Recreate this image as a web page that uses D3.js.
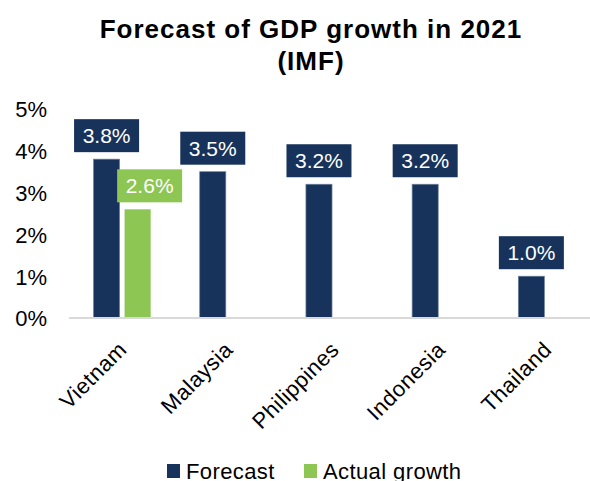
<!DOCTYPE html>
<html>
<head>
<meta charset="utf-8">
<script src="https://cdn.jsdelivr.net/npm/d3@7"></script>
<style>
  body { margin: 0; background: #fff; }
  svg { font-family: "Liberation Sans", Arial, sans-serif; }
</style>
</head>
<body>
<div id="viz"></div>
<script>
// chart data
var countries = ['Vietnam', 'Malaysia', 'Philippines', 'Indonesia', 'Thailand'];
var forecast = [3.8, 3.5, 3.2, 3.2, 1.0];
var actual = [2.6, null, null, null, null];
var seriesNames = ['Forecast', 'Actual growth'];
var seriesColors = ['#17335b', '#8dc653'];
var yTicks = [0, 1, 2, 3, 4, 5];

var width = 590, height = 481;
var plotLeft = 69, plotRight = 600, plotTop = 109, plotBottom = 318;

var svg = d3.select('#viz').append('svg')
  .attr('width', width)
  .attr('height', height);

// title
svg.append('text')
  .attr('x', 311)
  .attr('y', 38)
  .attr('text-anchor', 'middle')
  .style('font-size', '26px')
  .style('font-weight', 'bold')
  .style('letter-spacing', '1px')
  .text('Forecast of GDP growth in 2021');
svg.append('text')
  .attr('x', 311)
  .attr('y', 70)
  .attr('text-anchor', 'middle')
  .style('font-size', '26px')
  .style('font-weight', 'bold')
  .style('letter-spacing', '1px')
  .text('(IMF)');

var xScale = d3.scaleBand()
  .domain(countries)
  .range([plotLeft, plotRight]);

var xInner = d3.scaleBand()
  .domain(seriesNames)
  .range([0, xScale.bandwidth()])
  .paddingInner(0.16)
  .paddingOuter(0.79);

var yScale = d3.scaleLinear()
  .domain([0, 5])
  .range([plotBottom, plotTop]);

// y axis labels
var yAxis = d3.axisLeft(yScale)
  .tickValues(yTicks)
  .tickFormat(function(d) { return d + '%'; })
  .tickSize(0)
  .tickPadding(0);

var yGuide = svg.append('g')
  .attr('transform', 'translate(47,0)')
  .call(yAxis);
yGuide.select('.domain').remove();
yGuide.selectAll('text')
  .style('font-size', '22px')
  .attr('fill', '#000')
  .attr('dy', '0.36em');

// rows of bars
var rows = [];
countries.forEach(function(c, i) {
  rows.push({ country: c, series: seriesNames[0], value: forecast[i], color: seriesColors[0], nudge: 0 });
  if (actual[i] != null) {
    // excel label was dragged to the right to clear the forecast label
    rows.push({ country: c, series: seriesNames[1], value: actual[i], color: seriesColors[1], nudge: 12 });
  }
});

svg.append('g').selectAll('rect')
  .data(rows)
  .enter().append('rect')
    .attr('x', function(d) { return xScale(d.country) + xInner(d.series); })
    .attr('y', function(d) { return yScale(d.value); })
    .attr('width', xInner.bandwidth())
    .attr('height', function(d) { return plotBottom - yScale(d.value); })
    .attr('fill', function(d) { return d.color; })
    .attr('stroke', function(d) { return d.series === seriesNames[0] ? '#6f819c' : 'none'; })
    .attr('stroke-width', 0.7);

// x axis line
var xAxis = d3.axisBottom(xScale).tickSize(0).tickFormat('');
var xGuide = svg.append('g')
  .attr('transform', 'translate(0,' + plotBottom + ')')
  .call(xAxis);
xGuide.select('.domain')
  .attr('stroke', '#d9d9d9')
  .attr('stroke-width', 2)
  .attr('d', 'M' + plotLeft + ',0H' + plotRight);

// category labels, rotated
svg.append('g').selectAll('text')
  .data(countries)
  .enter().append('text')
    .attr('transform', function(d) {
      var cx = xScale(d) + xScale.bandwidth() / 2 + 6;
      return 'translate(' + cx + ',' + 351 + ') rotate(-45)';
    })
    .attr('text-anchor', 'end')
    .style('font-size', '22px')
    .style('letter-spacing', '0.5px')
    .text(function(d) { return d; });

// data labels in boxes
var boxW = 65, boxH = 33, boxGap = 7;
var labels = svg.append('g').selectAll('g')
  .data(rows)
  .enter().append('g')
    .attr('transform', function(d) {
      var cx = xScale(d.country) + xInner(d.series) + xInner.bandwidth() / 2 + d.nudge;
      var top = yScale(d.value) - boxGap - boxH;
      return 'translate(' + cx + ',' + top + ')';
    });
labels.append('rect')
  .attr('x', -boxW / 2)
  .attr('y', 0)
  .attr('width', boxW)
  .attr('height', boxH)
  .attr('fill', function(d) { return d.color; });
labels.append('text')
  .attr('x', 0)
  .attr('y', boxH / 2)
  .attr('dy', '0.36em')
  .attr('text-anchor', 'middle')
  .attr('fill', '#fff')
  .style('font-size', '21px')
  .text(function(d) { return d.value.toFixed(1) + '%'; });

// legend
var legend = svg.append('g').selectAll('g')
  .data(seriesNames)
  .enter().append('g')
    .attr('transform', function(d, i) { return 'translate(' + [167, 304][i] + ',0)'; });
legend.append('rect')
  .attr('x', 0)
  .attr('y', 464)
  .attr('width', 13)
  .attr('height', 14)
  .attr('fill', function(d, i) { return seriesColors[i]; });
legend.append('text')
  .attr('x', 19)
  .attr('y', 479)
  .style('font-size', '22px')
  .style('letter-spacing', '0.4px')
  .text(function(d) { return d; });
</script>
</body>
</html>
